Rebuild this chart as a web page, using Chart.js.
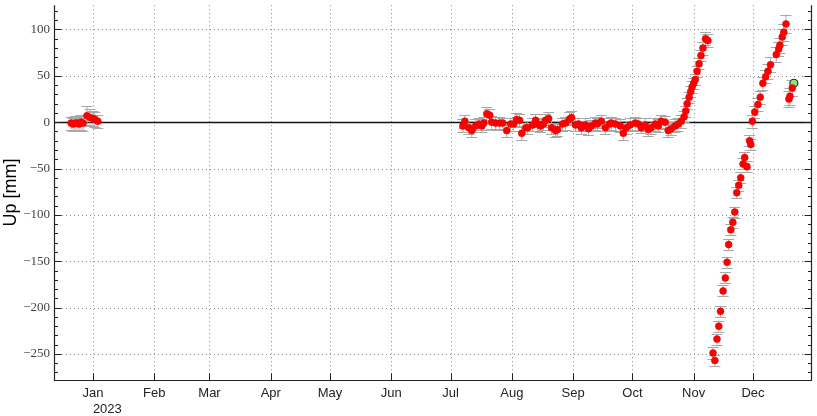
<!DOCTYPE html>
<html>
<head>
<meta charset="utf-8">
<script src="https://cdn.jsdelivr.net/npm/chart.js@4/dist/chart.umd.min.js"></script>
<style>
html,body{margin:0;padding:0;background:#fff;}
#c{display:block;}
</style>
</head>
<body>
<canvas id="c" width="817" height="416"></canvas>
<script>
// ---- data (x = days since 2023-01-01, y = Up in mm) ----
const monthTicks = [0,31,59,90,120,151,181,212,243,273,304,334];
const monthLabels = ['Jan','Feb','Mar','Apr','May','Jun','Jul','Aug','Sep','Oct','Nov','Dec'];
const yearLabel = '2023';
const yTicks = [-250,-200,-150,-100,-50,0,50,100];

const redDays = [
  -11,-10,-9,-8,-7,-6,-5,-3,-1.5,0,1,2.5,
  187.2,188.2,190.2,191.7,193.7,195.3,196.8,197.8,199.3,200.8,201.8,203.8,205.9,207.4,209.4,211.4,
  212.9,214.4,215.9,217,219,220,222.5,224,225,226.5,228,229,230.6,232.1,234.1,235.1,237.6,239.2,
  241.2,242.2,244.2,245.7,247.2,249.2,250.8,252.3,254.3,255.3,257.3,259.3,261.4,262.4,264.4,266.9,
  268.4,269.9,271.9,274.4,276,277.5,279.5,281,282.5,284.6,286.1,287.6,289.6,291.1,292.6,294.6,296.2,297.7,
  299.2,300,300.7,301.7,302.5,303.2,304,304.8,305.7,306.7,307.7,308.7,310,311.2,
  313.8,314.7,315.8,316.7,317.6,318.9,320,320.9,321.7,322.8,323.8,324.8,325.8,326.8,327.8,329,329.8,331,332.3,332.9,
  333.7,334.9,336.5,337.7,339,340.4,341.6,342.9,345.8,347,347.6,348.8,349.6,350.7,
  352.2,352.7,353.9
];
const redUp = [
  -1,-2,-1,-1,-2,0,-1,7,5,4,3,1,
  -4,1,-6,-9,-4,-2,-4,-1,9,7.5,0,-1,-1,-1,-9,-2,
  -2,3,2,-12,-6,-6,-3,2,-2,-4,-2,2,4,-6,-9,-8,-2,-1,
  3.5,5,-3,-2,-6,-3,-7,-4,-1,-2,1,-6,-2,-1,-2,-4,
  -12,-6,-3,-1,-2,-6,-3,-8,-6,-2,-4,1,0,-9,-7,-4,-2,1,
  6,12,20,27,33,38,42,46,55,63,72,80,90,88,
  -249,-257,-234,-220,-204,-182,-168,-151,-132,-116,-108,-97,-76,-68,-60,-45,-38,-48,-20,-24,
  1,11,19,27,42,49,55,62,73,79,83,92,97,106,
  25,28,37
];
const redErr = [
  7,7,8,7,7,8,8,10,9,8,8,7,
  7,7,7,7,7,6,7,7,7,7,7,7,7,6,7,7,
  7,7,7,7,7,7,7,7,7,7,6,7,7,7,7,7,7,7,
  7,7,7,7,7,7,7,6,7,7,7,7,7,7,7,7,
  7,7,7,7,7,6,7,7,7,7,7,7,7,7,7,7,7,7,
  6,6,6,6,6,6,6,6,6,6,6,7,7,7,
  6,6,6,6,6,6,6,6,6,6,6,6,6,6,6,6,6,6,6,6,
  7,7,7,7,7,7,8,8,8,8,8,9,9,10,
  9,9,9
];
const greenDays = [354.7];
const greenUp = [42];
const greenErr = [0];

// ---- chart ----
const xMin = -19.68, xMax = 363.77;
const yMin = -278.1, yMax = 126.2;
const sansNarrow = "'Liberation Sans Narrow','Liberation Sans',Arial,sans-serif";
const fmtMinus = v => v < 0 ? '\u2212' + Math.abs(v) : String(v);

const decor = {
  id: 'decor',
  beforeDatasetsDraw(chart) {
    const {ctx, chartArea: a, scales: {x, y}} = chart;
    ctx.save();
    // dotted grid
    ctx.strokeStyle = '#8a8a8a';
    ctx.lineWidth = 1;
    ctx.setLineDash([1, 3]);
    monthTicks.forEach(v => {
      const px = Math.round(x.getPixelForValue(v)) + 0.5;
      ctx.beginPath(); ctx.moveTo(px, a.top); ctx.lineTo(px, a.bottom); ctx.stroke();
    });
    yTicks.forEach(v => {
      if (v === 0) return;
      const py = Math.round(y.getPixelForValue(v)) + 0.5;
      ctx.beginPath(); ctx.moveTo(a.left, py); ctx.lineTo(a.right, py); ctx.stroke();
    });
    ctx.setLineDash([]);
    // zero line
    const p0 = Math.round(y.getPixelForValue(0)) + 0.5;
    ctx.strokeStyle = '#111';
    ctx.lineWidth = 1.5;
    ctx.beginPath(); ctx.moveTo(a.left, p0); ctx.lineTo(a.right, p0); ctx.stroke();
    // error bars
    ctx.strokeStyle = '#a8a8a8';
    ctx.lineWidth = 1;
    const drawErr = (days, ups, errs) => {
      days.forEach((d, i) => {
        if (!errs[i]) return;
        const px = x.getPixelForValue(d);
        const pt = y.getPixelForValue(ups[i] + errs[i]);
        const pb = y.getPixelForValue(ups[i] - errs[i]);
        ctx.beginPath();
        ctx.moveTo(px, pt); ctx.lineTo(px, pb);
        ctx.moveTo(px - 5.5, Math.round(pt) + 0.5); ctx.lineTo(px + 5.5, Math.round(pt) + 0.5);
        ctx.moveTo(px - 5.5, Math.round(pb) + 0.5); ctx.lineTo(px + 5.5, Math.round(pb) + 0.5);
        ctx.stroke();
      });
    };
    drawErr(redDays, redUp, redErr);
    drawErr(greenDays, greenUp, greenErr);
    ctx.restore();
  },
  afterDatasetsDraw(chart) {
    const {ctx, chartArea: a, scales: {x, y}} = chart;
    ctx.save();
    ctx.strokeStyle = '#222';
    ctx.lineWidth = 1.2;
    const L = Math.round(a.left) + 0.5, R = Math.round(a.right) - 0.5, B = Math.round(a.bottom) + 0.5;
    ctx.beginPath();
    ctx.moveTo(L, a.top); ctx.lineTo(L, B); ctx.lineTo(R, B); ctx.lineTo(R, a.top);
    ctx.stroke();
    ctx.lineWidth = 1;
    ctx.beginPath();
    for (let v = -270; v <= 120; v += 10) {
      const py = Math.round(y.getPixelForValue(v)) + 0.5;
      const len = (v % 50 === 0) ? 7 : 3.5;
      ctx.moveTo(L, py); ctx.lineTo(L + len, py);
      ctx.moveTo(R, py); ctx.lineTo(R - len, py);
    }
    monthTicks.forEach(v => {
      const px = Math.round(x.getPixelForValue(v)) + 0.5;
      ctx.moveTo(px, B); ctx.lineTo(px, B - 7);
    });
    ctx.stroke();
    ctx.restore();
  },
  afterDraw(chart) {
    const {ctx, scales: {x}} = chart;
    ctx.save();
    ctx.fillStyle = '#222';
    ctx.font = "13px " + sansNarrow;
    ctx.textAlign = 'left';
    ctx.textBaseline = 'middle';
    ctx.fillText(yearLabel, x.getPixelForValue(monthTicks[0]), 409);
    ctx.restore();
  }
};

new Chart(document.getElementById('c'), {
  type: 'scatter',
  data: {
    datasets: [
      {
        data: redDays.map((d, i) => ({x: d, y: redUp[i]})),
        pointRadius: 3.5,
        pointBackgroundColor: '#ff0000',
        pointBorderColor: '#e00000',
        pointBorderWidth: 0.5,
        showLine: false
      },
      {
        data: greenDays.map((d, i) => ({x: d, y: greenUp[i]})),
        pointRadius: 4,
        pointBackgroundColor: '#98e07a',
        pointBorderColor: '#2a2a2a',
        pointBorderWidth: 1.2,
        showLine: false
      }
    ]
  },
  options: {
    responsive: false,
    animation: false,
    devicePixelRatio: 1,
    layout: {padding: {top: 3, right: 3, left: 0, bottom: 0}},
    plugins: {legend: {display: false}, tooltip: {enabled: false}},
    scales: {
      x: {
        type: 'linear',
        min: xMin, max: xMax,
        grid: {display: false, drawTicks: false},
        border: {display: false},
        afterBuildTicks: s => { s.ticks = monthTicks.map(v => ({value: v})); },
        afterFit: s => { s.height = 36; s.paddingLeft = 0; s.paddingRight = 0; s.paddingTop = 0; s.paddingBottom = 0; },
        ticks: {
          autoSkip: false, maxRotation: 0, minRotation: 0, padding: 6,
          color: '#222',
          font: {family: sansNarrow, size: 13},
          callback: (v) => { const i = monthTicks.indexOf(v); return i >= 0 ? monthLabels[i] : ''; }
        }
      },
      y: {
        type: 'linear',
        min: yMin, max: yMax,
        grid: {display: false, drawTicks: false},
        border: {display: false},
        afterBuildTicks: s => { s.ticks = yTicks.map(v => ({value: v})); },
        afterFit: s => { s.width = 54; s.paddingTop = 0; s.paddingBottom = 0; s.paddingLeft = 0; s.paddingRight = 0; },
        ticks: {
          padding: 4,
          color: '#444',
          font: {family: "'Liberation Serif','Times New Roman',serif", size: 13},
          callback: v => fmtMinus(v)
        },
        title: {
          display: true,
          text: 'Up [mm]',
          color: '#000',
          padding: {top: 0, bottom: 0},
          font: {family: "'Liberation Sans',Arial,sans-serif", size: 18}
        }
      }
    }
  },
  plugins: [decor]
});
</script>
</body>
</html>
